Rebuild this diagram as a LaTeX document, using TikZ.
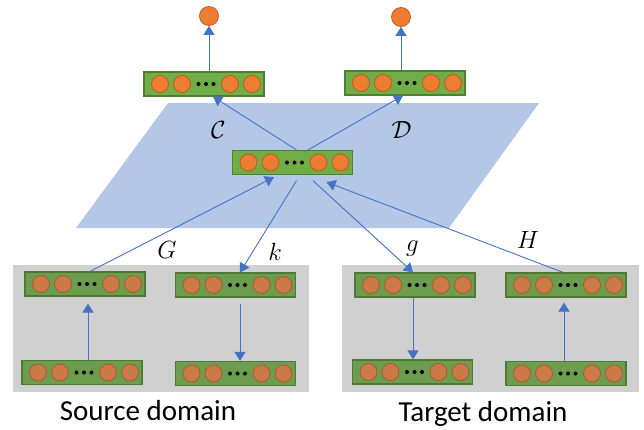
\documentclass[tikz,border=0pt]{standalone}
\usepackage{fontspec}
\setmainfont{Carlito}
\usetikzlibrary{arrows.meta}

\definecolor{planeblue}{HTML}{B4C7E7}
\definecolor{domgray}{HTML}{D0D0D0}
\definecolor{vecgreen}{HTML}{70AD47}
\definecolor{vecedge}{HTML}{507E32}
\definecolor{domgreen}{HTML}{6C9C4E}
\definecolor{domedge}{HTML}{4E7A36}
\definecolor{unitorange}{HTML}{ED7D31}
\definecolor{unitedge}{HTML}{BE5B1E}
\definecolor{domorange}{HTML}{CB7A47}
\definecolor{domunitedge}{HTML}{A65C2E}
\definecolor{linkblue}{HTML}{4472C4}

\tikzset{
  vec/.style={draw=vecedge, fill=vecgreen, line width=1.2pt, minimum width=120pt, minimum height=24pt, inner sep=0pt},
  vecdom/.style={vec, draw=domedge, fill=domgreen},
  unit/.style={draw=unitedge, fill=unitorange, line width=0.8pt},
  unitdom/.style={draw=domunitedge, fill=domorange, line width=0.8pt},
  outunit/.style={circle, draw=unitedge, fill=unitorange, line width=0.8pt, minimum size=19pt, inner sep=0pt},
  link/.style={draw=linkblue, line width=0.9pt, -{Triangle[width=11pt,length=9pt]}},
  sym/.style={font=\fontsize{30}{34}\selectfont, inner sep=0pt, anchor=base},
  domname/.style={font=\fontsize{29}{34}\selectfont, inner sep=0pt, anchor=base},
}

\begin{document}
\begin{tikzpicture}[x=1pt, y=-1pt]

\useasboundingbox (0,0) rectangle (644,429);

% shared plane and the two domains
\fill[planeblue] (168,103) -- (539,103) -- (449,228) -- (76,228) -- cycle;
\fill[domgray] (13,265) rectangle (309,392);
\fill[domgray] (342,265) rectangle (639,392);

\node[domname] (SrcLabel) at (148,420) {Source domain};
\node[domname] (TgtLabel) at (483,421) {Target domain};

% vectors
\node[vec] (C) at (204,84) {};
\node[vec] (D) at (405,83) {};
\node[vec] (Shared) at (292.5,162.5) {};
\node[vecdom] (SrcA) at (85,284) {};
\node[vecdom] (SrcB) at (235.5,285) {};
\node[vecdom] (SrcC) at (82,372.5) {};
\node[vecdom] (SrcD) at (235.5,373.5) {};
\node[vecdom] (TgtA) at (415,285) {};
\node[vecdom] (TgtB) at (566,285) {};
\node[vecdom] (TgtC) at (412.5,372) {};
\node[vecdom] (TgtD) at (566,373.5) {};

\node[outunit] (OutC) at (209,16) {};
\node[outunit] (OutD) at (401,17) {};

% units in the vectors
\foreach \v in {C,D,Shared} {
  \foreach \dx in {-44,-22,26,48}
    \draw[unit] ([xshift=\dx pt]\v.center) circle[radius=8.5pt];
  \foreach \dx in {-5.5,2,9.5}
    \fill ([xshift=\dx pt]\v.center) circle[radius=2pt];
}
\foreach \v in {SrcA,SrcB,SrcC,SrcD,TgtA,TgtB,TgtC,TgtD} {
  \foreach \dx in {-44,-22,26,48}
    \draw[unitdom] ([xshift=\dx pt]\v.center) circle[radius=8.5pt];
  \foreach \dx in {-5.5,2,9.5}
    \fill ([xshift=\dx pt]\v.center) circle[radius=2pt];
}

% outputs
\draw[link] ([xshift=5pt]C.north) -- (OutC.south);
\draw[link] ([xshift=-4pt]D.north) -- (OutD.south);
\draw[link] ([xshift=4pt]Shared.north) -- ([xshift=9pt]C.south);
\draw[link] ([xshift=13pt,yshift=-1.5pt]Shared.north) -- ([xshift=-2pt]D.south);
\node[sym] (LabC) at (218.5,138) {$\mathcal{C}$};
\node[sym] (LabD) at (401.5,138) {$\mathcal{D}$};

% encoders and decoders
\draw[link] ([xshift=5pt]SrcA.north) -- ([xshift=-18.5pt,yshift=-2pt]Shared.south);
\draw[link] ([xshift=4pt,yshift=-5.5pt]Shared.south) -- ([xshift=4.5pt]SrcB.north);
\draw[link] ([xshift=20.5pt,yshift=-5.5pt]Shared.south) -- ([xshift=-2pt]TgtA.north);
\draw[link] ([xshift=-3pt]TgtB.north) -- ([xshift=34pt,yshift=-7pt]Shared.south);
\node[sym] (LabG) at (167,258) {$G$};
\node[sym] (LabK) at (275,260) {$k$};
\node[sym] (LabSg) at (412.5,251) {$g$};
\node[sym] (LabH) at (528,248) {$H$};

% inside the domains
\draw[link, shorten >=7pt] ([xshift=6pt]SrcC.north) -- ([xshift=6pt]SrcC.north |- SrcA.south);
\draw[link, shorten <=6pt] ([xshift=4.5pt]SrcB.south) -- ([xshift=4.5pt]SrcB.south |- SrcD.north);
\draw[link] ([xshift=-2pt]TgtA.south) -- ([xshift=-2pt]TgtA.south |- TgtC.north);
\draw[link, shorten >=5pt] ([xshift=-2pt]TgtD.north) -- ([xshift=-2pt]TgtD.north |- TgtB.south);

\end{tikzpicture}
\end{document}
